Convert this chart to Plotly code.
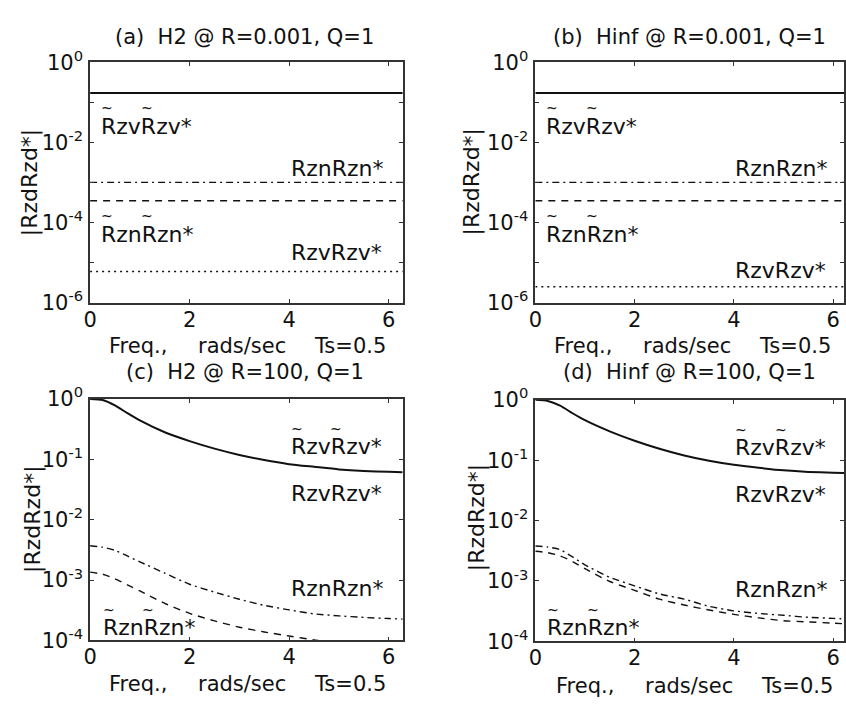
import math
import plotly.graph_objects as go

W, H = 846, 713

# ---------------- data ----------------
flat_x = [0.0, 2 * math.pi]
# (a) H2 @ R=0.001
a_vv_tilde = [0.17, 0.17]
a_nn = [1.0e-3, 1.0e-3]
a_nn_tilde = [3.5e-4, 3.5e-4]
a_vv = [6.0e-6, 6.0e-6]
# (b) Hinf @ R=0.001
b_vv_tilde = [0.17, 0.17]
b_nn = [1.0e-3, 1.0e-3]
b_nn_tilde = [3.5e-4, 3.5e-4]
b_vv = [2.5e-6, 2.5e-6]

freq = [0.0, 0.25, 0.5, 0.75, 1.0, 1.5, 2.0, 2.5, 3.0, 3.5, 4.0, 4.5, 5.0, 5.5, 6.0, 6.28]
# (c) H2 @ R=100
c_vv_tilde = [1.0, 0.96, 0.78, 0.58, 0.44, 0.28, 0.20, 0.15, 0.118, 0.097, 0.083, 0.075, 0.068, 0.064, 0.062, 0.061]
c_nn = [3.7e-3, 3.5e-3, 3.1e-3, 2.5e-3, 2.0e-3, 1.3e-3, 8.5e-4, 6.3e-4, 4.8e-4, 3.8e-4, 3.2e-4, 2.75e-4, 2.55e-4, 2.4e-4, 2.3e-4, 2.25e-4]
c_nn_tilde = [1.35e-3, 1.25e-3, 1.05e-3, 8.3e-4, 6.6e-4, 4.1e-4, 2.8e-4, 2.1e-4, 1.65e-4, 1.38e-4, 1.18e-4, 1.02e-4, 9.0e-5, 8.2e-5, 7.7e-5, 7.5e-5]
# (d) Hinf @ R=100
d_vv_tilde = [1.0, 0.96, 0.8, 0.6, 0.46, 0.3, 0.21, 0.155, 0.12, 0.098, 0.084, 0.075, 0.068, 0.064, 0.062, 0.061]
d_nn = [3.8e-3, 3.65e-3, 3.3e-3, 2.5e-3, 1.85e-3, 1.15e-3, 8.3e-4, 6.1e-4, 5.0e-4, 3.8e-4, 3.2e-4, 2.9e-4, 2.7e-4, 2.5e-4, 2.4e-4, 2.35e-4]
d_nn_tilde = [3.1e-3, 2.95e-3, 2.6e-3, 2.1e-3, 1.6e-3, 9.8e-4, 7.0e-4, 5.0e-4, 4.0e-4, 3.3e-4, 2.8e-4, 2.45e-4, 2.2e-4, 2.1e-4, 2.0e-4, 1.95e-4]

titles = ["(a)  H2 @ R=0.001, Q=1", "(b)  Hinf @ R=0.001, Q=1",
          "(c)  H2 @ R=100, Q=1", "(d)  Hinf @ R=100, Q=1"]
x_ticks = [0, 2, 4, 6]
ylabel = "|RzdRzd*|"

FONT = "DejaVu Sans"
FS = 21
INK = "#111111"

DASHDOT = "7px,4px,2px,4px"
DASHED = "7px,6px"
DOTTED = "2px,4px"

# panel pixel boxes: (left, right, top, bottom)
boxes = [(84, 400, 49, 299), (534, 846, 49, 299), (84, 400, 399, 650), (534, 846, 400, 651)]
xranges = [[0, 2 * math.pi], [0, 6.22], [0, 2 * math.pi], [0, 6.22]]
yexp = [(-6, 0), (-6, 0), (-4, 0), (-4, 0)]

fig = go.Figure()

def px(x):
    return x / W

def py(y):
    return 1 - y / H

series = [
    [(flat_x, a_vv_tilde, None, 2.0), (flat_x, a_nn, DASHDOT, 1.4), (flat_x, a_nn_tilde, DASHED, 1.4), (flat_x, a_vv, DOTTED, 1.5)],
    [(flat_x, b_vv_tilde, None, 2.0), (flat_x, b_nn, DASHDOT, 1.4), (flat_x, b_nn_tilde, DASHED, 1.4), (flat_x, b_vv, DOTTED, 1.5)],
    [(freq, c_vv_tilde, None, 2.0), (freq, c_nn, DASHDOT, 1.4), (freq, c_nn_tilde, DASHED, 1.4)],
    [(freq, d_vv_tilde, None, 2.0), (freq, d_nn, DASHDOT, 1.4), (freq, d_nn_tilde, DASHED, 1.4)],
]

for i in range(4):
    n = "" if i == 0 else str(i + 1)
    for xs, ys, dash, w in series[i]:
        fig.add_trace(go.Scatter(
            x=xs, y=ys, mode="lines", xaxis="x" + n, yaxis="y" + n,
            line=dict(color=INK, width=w, dash=dash if dash else "solid", shape="spline", smoothing=0.6),
            showlegend=False, hoverinfo="skip"))
    l, r, t, b = boxes[i]
    lo, hi = yexp[i]
    tv = [10.0 ** e for e in range(lo, hi + 1)]
    if hi - lo == 4:
        tt = ["10<sup>%d</sup>" % e for e in range(lo, hi + 1)]
    else:
        tt = [("10<sup>%d</sup>" % e) if (e - lo) % 2 == 0 else "" for e in range(lo, hi + 1)]
    common = dict(showline=True, linecolor="#333333", linewidth=1.6, mirror="ticks",
                  ticks="inside", ticklen=4, tickcolor="#333333", tickwidth=1.3,
                  showgrid=False, zeroline=False,
                  tickfont=dict(family=FONT, size=FS, color=INK))
    fig.update_layout(**{
        "xaxis" + n: dict(domain=[px(l), min(px(r), 1.0)], anchor="y" + n, range=xranges[i],
                          tickvals=x_ticks, ticktext=[str(v) for v in x_ticks],
                          ticklabelstandoff=-3, **common),
        "yaxis" + n: dict(domain=[py(b), py(t)], anchor="x" + n, type="log", range=[lo, hi],
                          tickvals=tv, ticktext=tt, ticklabelstandoff=1, **common),
    })

ann = []

def text(x, y, s, size=FS, xanchor="left", angle=0):
    ann.append(dict(x=px(x), y=py(y), xref="paper", yref="paper", text=s, showarrow=False,
                    xanchor=xanchor, yanchor="middle", textangle=angle, borderpad=0,
                    font=dict(family=FONT, size=size, color=INK)))

LS = 22

def tilde_label(x0, yc, s):
    text(x0, yc, s, size=LS)
    text(x0 + 7, yc - 19, "~", size=14, xanchor="center")
    text(x0 + 47, yc - 19, "~", size=14, xanchor="center")

# titles
title_pos = [(240, 23), (690, 23), (241, 371), (690, 371)]
for (x, y), s in zip(title_pos, titles):
    text(x, y, s, xanchor="center")

# x-axis titles
xl_pos = [(102, 344), (552, 344), (102, 695), (554, 697)]
for x, y in xl_pos:
    text(x, y, "Freq.,")
    text(x + 90, y, "rads/sec")
    text(x + 207, y, "Ts=0.5")

# y-axis titles
yl_pos = [(24, 174), (470, 174), (26, 524), (475, 522)]
for x, y in yl_pos:
    text(x, y, ylabel, size=22, xanchor="center", angle=-90)

# curve labels
tilde_label(94, 116, "RzvRzv*")
text(286, 160, "RznRzn*", size=LS)
tilde_label(94, 228, "RznRzn*")
text(286, 247, "RzvRzv*", size=LS)

tilde_label(544, 116, "RzvRzv*")
text(735, 160, "RznRzn*", size=LS)
tilde_label(544, 228, "RznRzn*")
text(735, 266, "RzvRzv*", size=LS)

tilde_label(286, 449, "RzvRzv*")
text(286, 497, "RzvRzv*", size=LS)
text(286, 596, "RznRzn*", size=LS)
tilde_label(96, 637, "RznRzn*")

tilde_label(735, 450, "RzvRzv*")
text(735, 498, "RzvRzv*", size=LS)
text(735, 597, "RznRzn*", size=LS)
tilde_label(545, 637, "RznRzn*")

fig.update_layout(annotations=ann, width=W, height=H,
                  margin=dict(l=0, r=0, t=0, b=0),
                  paper_bgcolor="white", plot_bgcolor="white",
                  font=dict(family=FONT, size=FS, color=INK))

fig.write_html("out.html")
